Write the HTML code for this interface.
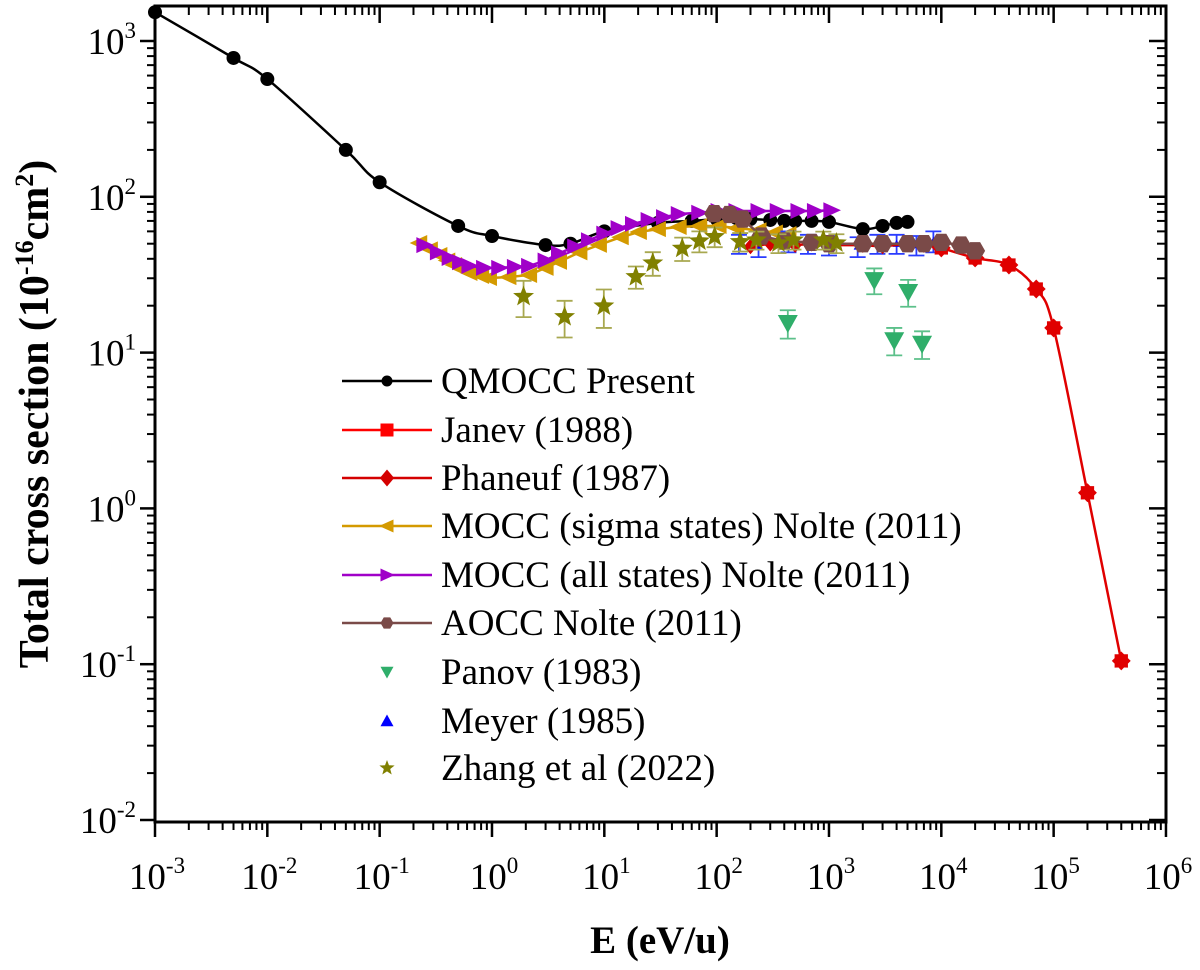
<!DOCTYPE html>
<html><head><meta charset="utf-8"><style>
html,body{margin:0;padding:0;background:#fff;}
svg{display:block;font-family:"Liberation Serif",serif;}
</style></head><body>
<svg id="chart" width="1200" height="970" viewBox="0 0 1200 970">
<g id="axes"></g>
<g id="series"></g>
<g id="legend"></g>
<text x="660" y="953" text-anchor="middle" font-size="39" font-weight="bold">E (eV/u)</text>
<text transform="translate(48,414) rotate(-90)" text-anchor="middle" font-size="42" font-weight="bold">Total cross section (10<tspan dy="-15" font-size="26">-16</tspan><tspan dy="15">cm</tspan><tspan dy="-15" font-size="26">2</tspan><tspan dy="15">)</tspan></text>
</svg>
<script>
// ---- data ----
const qmoccE=[1e-3,5e-3,1e-2,5e-2,0.1,0.5,1,3,5,10,30,60,100,150,200,300,400,500,700,1000,2000,3000,4000,5000];
const qmoccS=[1530,778,570,200,124,65,56,49,50,60,68,70,72,73,72,71,70,70,70,69,62,65,68,69];
const janevE=[1e4,2e4,4e4,7e4,1e5,2e5,4e5];
const janevS=[47,40.5,36.5,25.6,14.4,1.26,0.105];
const phaneufE=[200,300,500,700,1000,2000,3000,5000,7000,1e4];
const phaneufS=[48,50,49,50,49,49,48,50,49,47];
const sigmaE=[0.225,0.28,0.34,0.4,0.46,0.55,0.63,0.8,0.94,1.4,2.14,3,3.95,6,8.95,14,20.3,30,45.9,70,104,150,236,330,436];
const sigmaS=[50.5,46,42.3,39,36.5,34,32.4,31,30.1,30.5,31.5,35,38.2,44,49.1,55,59.4,62,64,65,65,63,61,59,57.7];
const allE=[0.25,0.33,0.42,0.52,0.63,0.85,1.16,1.6,2.14,3,3.95,5.5,7.3,10,13.4,18,24.8,34,46,70,104,150,236,350,535,750,1050];
const allS=[49,44,40.5,38,36,35,35,35.5,36,39,43.3,48,52.6,58,63,67,71,74,77.5,79,81,81,81,81,81,81,82];
const aoccE=[95,130,170,250,400,700,1000,2000,3000,5000,7000,1e4,1.5e4,2e4];
const aoccS=[78,77,72,56,52,51,50,50,50,50,50,51,49,45];
const panovE=[430,2530,3810,5070,6740];
const panovS=[15.5,29.2,12.0,24.5,11.4];
const panovErr=[3.2,5.5,2.4,4.8,2.3];
const meyerE=[158,236,436,650,1000,1800,2700,4000,6000,8500];
const meyerS=[50,48,52,50,49,48,50,50,49,52];
const meyerErr=[7,7,8,7,7,7,7,7,7,8];
const zhangE=[1.91,4.43,9.9,19.1,27,49.4,70.2,96,162,226,355,483,891,1164];
const zhangS=[22.9,17.0,19.9,30.7,37.6,46.7,52,55.5,51.5,52.8,50.5,52.8,52.8,50.5];
const zhangErr=[6,4.5,5.5,5,6.5,8,8,8,7,7,7,7,7,7];
const xTickExp=[-3,-2,-1,0,1,2,3,4,5,6];
const yTickExp=[3,2,1,0,-1,-2];

// ---- scales ----
const X0=155,X1=1166,Y0=6,Y1=822;
const dx=112.33;
function xs(e){return 155+(Math.log10(e)+3)*dx;}
function ys(v){return 41+(3-Math.log10(v))*155.8;}
const NS='http://www.w3.org/2000/svg';
function mk(tag,attrs,parent){const el=document.createElementNS(NS,tag);for(const k in attrs)el.setAttribute(k,attrs[k]);parent.appendChild(el);return el;}
const axes=document.getElementById('axes');
const ser=document.getElementById('series');

const frame=mk('rect',{x:X0,y:Y0,width:X1-X0,height:Y1-Y0,fill:'none',stroke:'#000','stroke-width':3},axes);


for(let d=-3;d<=6;d++){
  const x=xs(Math.pow(10,d));
  mk('line',{x1:x,y1:Y1,x2:x,y2:Y1+15,stroke:'#000','stroke-width':2.5},axes);
  mk('line',{x1:x,y1:Y0,x2:x,y2:Y0+17,stroke:'#000','stroke-width':2.5},axes);
  if(d<6)for(let m=2;m<=9;m++){const xm=xs(m*Math.pow(10,d));
    mk('line',{x1:xm,y1:Y1,x2:xm,y2:Y1+8,stroke:'#000','stroke-width':2},axes);
    mk('line',{x1:xm,y1:Y0,x2:xm,y2:Y0+9,stroke:'#000','stroke-width':2},axes);}
}
for(const d of xTickExp){
  const t=mk('text',{x:xs(Math.pow(10,d))+2,y:889,'text-anchor':'middle','font-size':37},axes);
  
  
  t.innerHTML='10<tspan dy="-16" font-size="23">'+d+'</tspan>';
}
for(let d=-2;d<=3;d++){
  const y=ys(Math.pow(10,d));
  mk('line',{x1:X0-15,y1:y,x2:X0,y2:y,stroke:'#000','stroke-width':2.5},axes);
  mk('line',{x1:X1-17,y1:y,x2:X1,y2:y,stroke:'#000','stroke-width':2.5},axes);
  for(let m=2;m<=9;m++){const v=m*Math.pow(10,d);const ym=ys(v);if(ym<Y0)continue;
    mk('line',{x1:X0-8,y1:ym,x2:X0,y2:ym,stroke:'#000','stroke-width':2},axes);
    mk('line',{x1:X1-9,y1:ym,x2:X1,y2:ym,stroke:'#000','stroke-width':2},axes);}
}
for(const d of yTickExp){
  const t=mk('text',{x:136,y:ys(Math.pow(10,d))+13,'text-anchor':'end','font-size':37},axes);
  
  
  t.innerHTML='10<tspan dy="-16" font-size="23">'+d+'</tspan>';
}

function marker(shape,cx,cy,r,color,parent){
  let p;
  if(shape==='circle')p=mk('circle',{cx:cx,cy:cy,r:r,fill:color},parent);
  else{
    let pts=[];
    if(shape==='square')pts=[[-r,-r],[r,-r],[r,r],[-r,r]];
    else if(shape==='diamond')pts=[[0,-r*1.3],[r*1.1,0],[0,r*1.3],[-r*1.1,0]];
    else if(shape==='left')pts=[[-r*1.2,0],[r,-r],[r,r]];
    else if(shape==='right')pts=[[r*1.2,0],[-r,-r],[-r,r]];
    else if(shape==='down')pts=[[-r,-r*0.8],[r,-r*0.8],[0,r]];
    else if(shape==='up')pts=[[-r,r*0.8],[r,r*0.8],[0,-r]];
    else if(shape==='hex'){for(let i=0;i<6;i++){const a=Math.PI/3*i;pts.push([r*Math.cos(a),r*Math.sin(a)]);}}
    else if(shape==='burst'){for(let i=0;i<16;i++){const a=Math.PI/8*i;const rr=i%2?r*0.8:r*1.05;pts.push([rr*Math.cos(a),rr*Math.sin(a)]);}}
    else if(shape==='star'){for(let i=0;i<10;i++){const a=-Math.PI/2+Math.PI/5*i;const rr=i%2?r*0.42:r;pts.push([rr*Math.cos(a),rr*Math.sin(a)]);}}
    p=mk('polygon',{points:pts.map(q=>(cx+q[0])+','+(cy+q[1])).join(' '),fill:color},parent);
  }
  return p;
}
function smoothPath(P){
  let d='M'+P[0][0]+','+P[0][1];
  for(let i=0;i<P.length-1;i++){
    const p0=P[i-1]||P[i],p1=P[i],p2=P[i+1],p3=P[i+2]||p2;
    const c1=[p1[0]+(p2[0]-p0[0])/6,p1[1]+(p2[1]-p0[1])/6];
    const c2=[p2[0]-(p3[0]-p1[0])/6,p2[1]-(p3[1]-p1[1])/6];
    d+=' C'+c1[0]+','+c1[1]+' '+c2[0]+','+c2[1]+' '+p2[0]+','+p2[1];
  }
  return d;
}
function lineSeries(name,E,S,color,shape,r,smooth){
  const g=mk('g',{},ser);
  
  
  const P=E.map((e,i)=>[xs(e),ys(S[i])]);
  mk('path',{d:smooth?smoothPath(P):'M'+P.map(p=>p.join(',')).join(' L'),fill:'none',stroke:color,'stroke-width':2.5},g);
  P.forEach(p=>{const m=marker(shape,p[0],p[1],r,color,g);
    
    });
}
function errSeries(name,E,S,Err,color,errColor,shape,r){
  const g=mk('g',{},ser);
  
  
  E.forEach((e,i)=>{
    const x=xs(e),y=ys(S[i]),yt=ys(S[i]+Err[i]),yb=ys(S[i]-Err[i]);
    mk('line',{x1:x,y1:yt,x2:x,y2:yb,stroke:errColor,'stroke-width':1.8},g);
    mk('line',{x1:x-8,y1:yt,x2:x+8,y2:yt,stroke:errColor,'stroke-width':1.8},g);
    mk('line',{x1:x-8,y1:yb,x2:x+8,y2:yb,stroke:errColor,'stroke-width':1.8},g);
    const m=marker(shape,x,y,r,color,g);
    
    
  });
}
lineSeries('qmocc-series',qmoccE,qmoccS,'#000','circle',7,true);
lineSeries('sigma-states-series',sigmaE,sigmaS,'#d49a00','left',8,false);
lineSeries('all-states-series',allE,allS,'#a000c8','right',8,false);
errSeries('meyer-series',meyerE,meyerS,meyerErr,'#0000ff','#2a3cff','up',4);
lineSeries('phaneuf-series',phaneufE,phaneufS,'#d40000','diamond',6,false);
lineSeries('janev-series',janevE,janevS,'#e00000','burst',9,true);
lineSeries('aocc-series',aoccE,aoccS,'#7a4a48','hex',10,false);
errSeries('zhang-series',zhangE,zhangS,zhangErr,'#808000','#a8a850','star',11);
errSeries('panov-series',panovE,panovS,panovErr,'#2fae6a','#5cc08a','down',10);

const leg=document.getElementById('legend');
const legNames=['QMOCC Present','Janev (1988)','Phaneuf (1987)','MOCC (sigma states) Nolte (2011)','MOCC (all states) Nolte (2011)','AOCC Nolte (2011)',' Panov (1983)','Meyer (1985)','Zhang et al (2022)'];
const legColors=['#000','#ff0000','#d40000','#d49a00','#a000c8','#7a4a48','#2fae6a','#0000ff','#808000'];
const legShapes=['circle','square','diamond','left','right','hex','down','up','star'];
const legLine=[1,1,1,1,1,1,0,0,0];
const legY=[381,430,478,526,575,623,672,721,768];
legNames.forEach((n,i)=>{
  const g=mk('g',{},leg);
  
  
  const y=legY[i];
  if(legLine[i])mk('line',{x1:342,y1:y,x2:432,y2:y,stroke:legColors[i],'stroke-width':2.5},g);
  marker(legShapes[i],387,y,legShapes[i]==='star'?8:(legShapes[i]==='circle'?5.5:6.5),legColors[i],g);
  const t=mk('text',{x:441,y:y+12,'font-size':37,'xml:space':'preserve'},g);
  t.textContent=n;
});
</script>
</body></html>
